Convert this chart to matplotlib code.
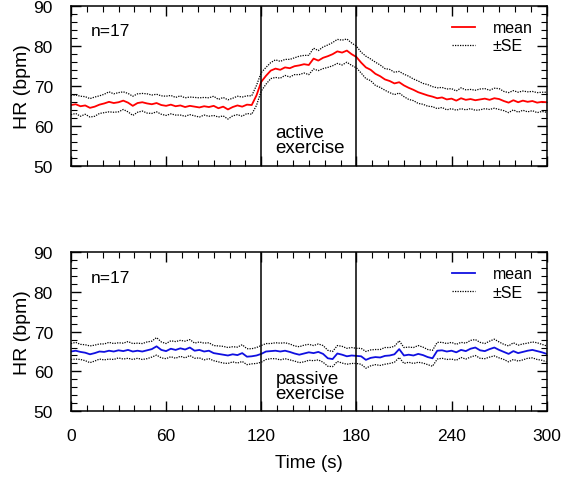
import matplotlib.pyplot as plt
import numpy as np
from matplotlib.ticker import MultipleLocator

plt.rcParams["font.family"] = ["Liberation Sans", "DejaVu Sans"]

# time axis, one sample every 3 s
time_s = np.arange(0, 301, 3)

# active exercise (top panel)
active_mean = [
    65.2, 65.4, 64.9, 65.1, 64.5, 64.8, 65.3, 65.6, 66.0, 65.7,
    65.9, 66.3, 65.8, 65.0, 65.7, 65.9, 65.6, 65.4, 65.7, 65.2,
    65.0, 65.3, 64.9, 65.1, 64.7, 65.0, 64.8, 64.6, 64.9, 64.7,
    65.0, 64.4, 64.8, 64.1, 64.7, 65.1, 64.8, 65.3, 65.2, 67.6,
    71.0, 72.5, 73.8, 74.3, 74.0, 74.6, 74.4, 74.9, 75.1, 75.4,
    75.2, 76.8, 76.3, 77.0, 77.4, 77.9, 78.6, 78.3, 78.8, 77.9,
    77.2, 75.8, 74.6, 74.0, 73.0, 72.4, 71.6, 71.2, 70.6, 70.9,
    70.1, 69.5, 69.0, 68.4, 68.0, 67.6, 67.3, 66.9, 67.1, 66.6,
    66.8, 66.3, 66.9, 66.5, 66.7, 66.4, 66.6, 66.8, 66.5, 66.9,
    66.7, 66.2, 65.8, 66.4, 65.9, 66.3, 66.0, 66.2, 65.8, 66.0,
    65.9,
]
active_se = [
    2.4, 2.3, 2.5, 2.2, 2.3, 2.4, 2.2, 2.3, 2.5, 2.3,
    2.4, 2.2, 2.3, 2.4, 2.3, 2.2, 2.4, 2.3, 2.2, 2.3,
    2.4, 2.3, 2.2, 2.4, 2.3, 2.2, 2.3, 2.4, 2.2, 2.3,
    2.4, 2.2, 2.3, 2.4, 2.2, 2.3, 2.4, 2.2, 2.3, 2.5,
    2.3, 2.1, 2.0, 2.2, 2.1, 2.0, 2.2, 2.1, 2.3, 2.2,
    2.4, 2.6, 2.5, 2.7, 2.8, 2.9, 3.0, 3.1, 2.9, 2.8,
    2.7, 2.6, 2.8, 2.7, 2.9, 2.8, 2.7, 2.9, 2.8, 2.7,
    2.8, 2.9, 2.7, 2.8, 2.6, 2.7, 2.5, 2.6, 2.5, 2.6,
    2.5, 2.4, 2.6, 2.5, 2.4, 2.5, 2.6, 2.5, 2.4, 2.5,
    2.6, 2.4, 2.5, 2.4, 2.5, 2.4, 2.5, 2.4, 2.5, 2.4,
    2.5,
]

# passive exercise (bottom panel)
passive_mean = [
    65.0, 65.2, 64.9, 64.7, 64.3, 64.6, 65.0, 64.9, 65.2, 65.0,
    65.3, 65.1, 65.4, 65.0, 65.2, 65.0, 65.3, 65.6, 66.3, 65.4,
    65.1, 65.7, 65.4, 65.8, 65.5, 66.0, 65.2, 65.4, 65.0, 65.2,
    64.6, 64.4, 64.2, 64.0, 64.3, 64.1, 64.6, 63.7, 63.8, 64.0,
    64.4, 65.0, 65.1, 65.2, 65.0, 65.2, 64.9, 64.5, 64.2, 64.5,
    64.8, 64.6, 64.9, 64.4, 63.3, 63.1, 64.5, 64.2, 63.8, 64.0,
    63.9, 63.8, 62.9, 63.4, 63.6, 63.5, 63.9, 64.0, 64.3, 65.6,
    64.0, 64.2, 64.0, 64.4, 64.1, 63.6, 63.3, 65.2, 65.3, 65.0,
    65.2, 64.8, 65.4, 65.1, 65.7, 66.0, 65.3, 65.1, 65.6, 66.0,
    65.4, 64.9, 64.4, 65.1, 64.6, 64.9, 65.2, 65.4, 65.1, 64.8,
    64.4,
]
passive_se = [
    2.0, 2.1, 1.9, 2.0, 2.1, 2.0, 1.9, 2.0, 2.1, 2.0,
    1.9, 2.0, 2.1, 2.0, 1.9, 2.0, 2.1, 2.0, 2.2, 2.0,
    1.9, 2.0, 2.1, 2.0, 2.1, 2.0, 1.9, 2.0, 2.1, 2.0,
    1.9, 2.0, 2.1, 2.0, 1.9, 2.0, 2.1, 2.0, 1.9, 2.0,
    2.1, 2.0, 1.9, 2.0, 2.1, 2.0, 2.0, 1.9, 2.0, 2.1,
    2.0, 1.9, 2.0, 2.1, 2.0, 1.9, 2.0, 2.1, 2.0, 2.0,
    1.9, 2.0, 2.1, 2.0, 1.9, 2.0, 2.1, 2.0, 2.0, 2.1,
    2.0, 1.9, 2.0, 2.1, 2.0, 1.9, 2.0, 2.1, 2.0, 2.0,
    2.1, 2.0, 1.9, 2.0, 2.1, 2.0, 2.0, 1.9, 2.0, 2.1,
    2.0, 1.9, 2.0, 2.1, 2.0, 2.0, 1.9, 2.0, 2.1, 2.0,
    2.0,
]

x_ticks = [0, 60, 120, 180, 240, 300]
y_ticks = [50, 60, 70, 80, 90]
exercise_window = [120, 180]

panels = [
    (active_mean, active_se, "red", "active\nexercise"),
    (passive_mean, passive_se, "#1010e0", "passive\nexercise"),
]

fig = plt.figure(figsize=(5.63, 4.81), dpi=100)
ax_top = fig.add_axes([0.126, 0.653, 0.845, 0.333])
ax_bot = fig.add_axes([0.126, 0.143, 0.845, 0.331])

for ax, (mean, se, color, label) in zip([ax_top, ax_bot], panels):
    mean = np.array(mean)
    se = np.array(se)
    ax.plot(time_s, mean, color=color, lw=1.3, label="mean")
    ax.plot(time_s, mean + se, color="black", lw=0.9, ls=(0, (1, 1)), label="±SE")
    ax.plot(time_s, mean - se, color="black", lw=0.9, ls=(0, (1, 1)))
    for xv in exercise_window:
        ax.axvline(xv, color="black", lw=1.1)

    ax.set_xlim(0, 300)
    ax.set_ylim(50, 90)
    ax.set_xticks(x_ticks)
    ax.set_yticks(y_ticks)
    ax.xaxis.set_minor_locator(MultipleLocator(10))
    ax.yaxis.set_minor_locator(MultipleLocator(2))
    ax.tick_params(which="both", direction="in", top=True, right=True, labelsize=12.5)
    ax.tick_params(which="major", length=7, width=1)
    ax.tick_params(which="minor", length=4, width=0.8)
    ax.tick_params(axis="y", which="major", pad=13)
    ax.tick_params(axis="x", which="major", pad=12)
    for sp in ax.spines.values():
        sp.set_linewidth(1.1)
    ax.set_ylabel("HR (bpm)", fontsize=14, labelpad=2)

    ax.text(12.5, 83.7, "n=17", fontsize=12.5, va="center")
    ax.text(129, 60.4, label, fontsize=13.5, va="top", ha="left", linespacing=0.85)
    ax.legend(loc="upper right", bbox_to_anchor=(1.0, 1.0), frameon=False,
              fontsize=11.5, handlelength=1.4, handletextpad=1.1, labelspacing=0.2)

ax_top.tick_params(labelbottom=False)
ax_bot.set_xlabel("Time (s)", fontsize=13.5, labelpad=8)

fig.savefig("out.png", dpi=100)
